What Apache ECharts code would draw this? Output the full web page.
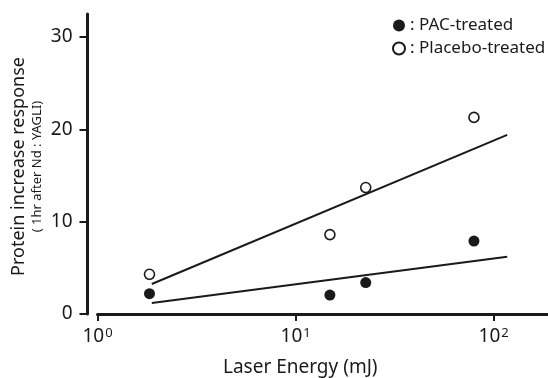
<!DOCTYPE html>
<html><head><meta charset="utf-8">
<script src="https://cdn.jsdelivr.net/npm/echarts@6/dist/echarts.min.js"></script>
<style>html,body{margin:0;padding:0;background:#fff}#c{width:548px;height:378px}</style>
</head><body><div id="c"></div>
<script>
const energies = [1.83, 14.9, 22.6, 79.5];
const pacValues = [2.2, 2.05, 3.4, 7.9];
const placeboValues = [4.3, 8.6, 13.7, 21.3];
const fitEnergies = [1.88, 117];
const pacFit = [1.2, 6.2];
const placeboFit = [3.25, 19.4];
const yTicks = [0, 10, 20, 30];
const xTicks = [1, 10, 100];
const xTickLabels = {1: ['10', '0'], 10: ['10', '1'], 100: ['10', '2']};

const ink = '#1a1a1a';
const font = 'Noto Sans';
const chart = echarts.init(document.getElementById('c'));
const zip = (xs, ys) => xs.map((x, i) => [x, ys[i]]);
chart.setOption({
  animation: false,
  grid: {left: 97.5, right: 0, top: 14, bottom: 64, outerBoundsMode: 'none', containLabel: false},
  legend: {
    orient: 'vertical', left: 387, top: 12, itemWidth: 12, itemHeight: 12, itemGap: 6,
    data: ['PAC-treated', 'Placebo-treated'],
    formatter: n => ': ' + n,
    textStyle: {fontFamily: font, fontSize: 17, color: ink}
  },
  xAxis: {
    type: 'log', min: 1, max: 188, logBase: 10,
    name: 'Laser Energy (mJ)', nameLocation: 'middle', nameGap: 44,
    nameTextStyle: {fontFamily: font, fontSize: 19, color: ink, padding: [0, 45, 0, 0]},
    axisLine: {lineStyle: {color: ink, width: 3}},
    axisTick: {customValues: xTicks, length: 7, lineStyle: {color: ink, width: 2}},
    splitLine: {show: false}, minorTick: {show: false},
    axisLabel: {
      customValues: xTicks, margin: 13,
      formatter: v => { const t = xTickLabels[Math.round(v)]; return t ? '{b|' + t[0] + '}{s|' + t[1] + '}' : ''; },
      rich: {
        b: {fontFamily: font, fontSize: 19, color: ink, lineHeight: 20},
        s: {fontFamily: font, fontSize: 13, color: ink, verticalAlign: 'top', lineHeight: 20, padding: [0, 0, 8, 1]}
      }
    }
  },
  yAxis: {
    type: 'value', min: 0, max: 32.5, offset: 10,
    name: '{a|Protein increase response}\n{b|( 1hr after Nd : YAGLI)}',
    nameLocation: 'middle', nameGap: 42, nameRotate: 90, nameMoveOverlap: false,
    nameTextStyle: {
      padding: [0, 5, 0, 0],
      rich: {
        a: {fontFamily: font, fontSize: 18, color: ink, lineHeight: 22, align: 'center'},
        b: {fontFamily: font, fontSize: 13, color: ink, lineHeight: 16, align: 'center'}
      }
    },
    axisLine: {show: true, lineStyle: {color: ink, width: 3}},
    axisTick: {show: true, customValues: yTicks, length: 8, lineStyle: {color: ink, width: 2}},
    splitLine: {show: false},
    axisLabel: {customValues: yTicks, fontFamily: font, fontSize: 19, color: ink, margin: 15}
  },
  series: [
    {name: 'PAC-treated', type: 'scatter', data: zip(energies, pacValues), symbol: 'circle', symbolSize: 11,
     itemStyle: {color: ink, opacity: 1}},
    {name: 'Placebo-treated', type: 'scatter', data: zip(energies, placeboValues), symbol: 'circle', symbolSize: 10,
     itemStyle: {color: '#fff', borderColor: ink, borderWidth: 1.6, opacity: 1}},
    {name: 'PAC fit', type: 'line', data: zip(fitEnergies, pacFit), showSymbol: false, symbol: 'none',
     lineStyle: {color: ink, width: 2}},
    {name: 'Placebo fit', type: 'line', data: zip(fitEnergies, placeboFit), showSymbol: false, symbol: 'none',
     lineStyle: {color: ink, width: 2}}
  ]
});
</script></body></html>
